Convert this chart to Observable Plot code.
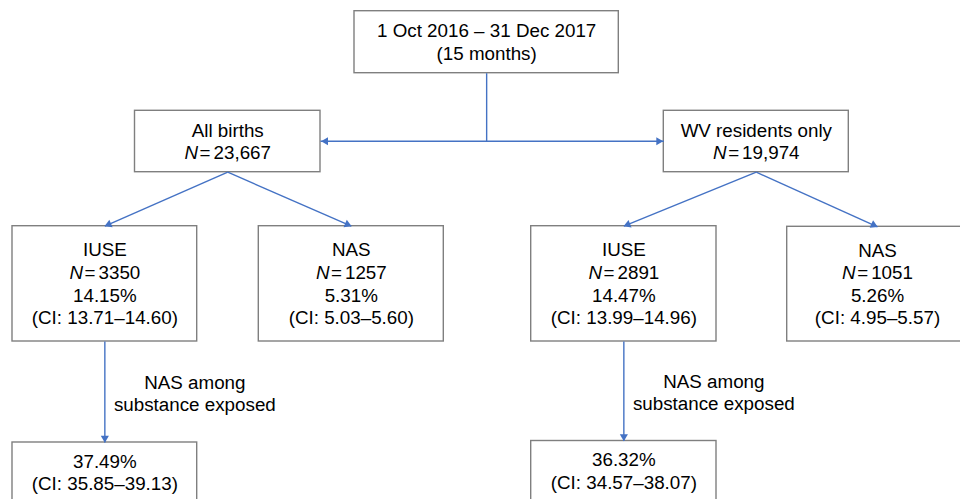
<!DOCTYPE html>
<html>
<head>
<meta charset="utf-8">
<script src="https://cdn.jsdelivr.net/npm/d3@7"></script>
<script src="https://cdn.jsdelivr.net/npm/@observablehq/plot@0.6"></script>
<style>
  html, body { margin: 0; padding: 0; background: #fff; overflow: hidden; }
</style>
</head>
<body>
<div id="chart"></div>
<script>
// ---- Data (content of the flow chart) ----
const nodeIds      = ["period", "all", "wv", "allIuse", "allNas", "wvIuse", "wvNas", "allIuseNas", "wvIuseNas"];
const nodeTitles   = ["1 Oct 2016 \u2013 31 Dec 2017", "All births", "WV residents only", "IUSE", "NAS", "IUSE", "NAS", null, null];
const nodeNotes    = ["(15 months)", null, null, null, null, null, null, null, null];
const nodeCounts   = [null, "23,667", "19,974", "3350", "1257", "2891", "1051", null, null];
const nodePercents = [null, null, null, "14.15%", "5.31%", "14.47%", "5.26%", "37.49%", "36.32%"];
const nodeCIs      = [null, null, null, "13.71\u201314.60", "5.03\u20135.60", "13.99\u201314.96", "4.95\u20135.57", "35.85\u201339.13", "34.57\u201338.07"];

const edgeFrom   = ["all", "all", "wv", "wv", "allIuse", "wvIuse"];
const edgeTo     = ["allIuse", "allNas", "wvIuse", "wvNas", "allIuseNas", "wvIuseNas"];
const edgeLabels = [null, null, null, null, "NAS among\nsubstance exposed", "NAS among\nsubstance exposed"];

// ---- Layout (diagram geometry, pixels) ----
const layout = {
  period:     {x1: 354,   y1: 10.7,  x2: 618.3, y2: 72.7},
  all:        {x1: 134.5, y1: 110.3, x2: 320,   y2: 171.7},
  wv:         {x1: 663.3, y1: 110.3, x2: 848.3, y2: 171.7},
  allIuse:    {x1: 12,    y1: 225.7, x2: 196.7, y2: 341},
  allNas:     {x1: 258.3, y1: 225.7, x2: 443.3, y2: 341},
  wvIuse:     {x1: 530.7, y1: 225.7, x2: 716,   y2: 341},
  wvNas:      {x1: 786.7, y1: 226.3, x2: 967.3, y2: 341},
  allIuseNas: {x1: 12,    y1: 442,   x2: 196.7, y2: 503},
  wvIuseNas:  {x1: 530.7, y1: 440.5, x2: 716,   y2: 503}
};
const labelOffsetX = 90;   // edge label placed to the right of vertical arrows
const branchY = 140.7;     // y of the horizontal split line

const BLUE = "#4472c4";
const GRAY = "#7f7f7f";
const FONT = "'Liberation Sans', Arial, Helvetica, sans-serif";

// ---- Build tables ----
const boxes = nodeIds.map((id, i) => {
  const b = layout[id];
  const lines = [];
  if (nodeTitles[i]) lines.push(nodeTitles[i]);
  if (nodeNotes[i]) lines.push(nodeNotes[i]);
  if (nodeCounts[i]) lines.push("N=" + nodeCounts[i]);
  if (nodePercents[i]) lines.push(nodePercents[i]);
  if (nodeCIs[i]) lines.push("(CI: " + nodeCIs[i] + ")");
  return {id, ...b, cx: (b.x1 + b.x2) / 2, cy: (b.y1 + b.y2) / 2 - 0.8, text: lines.join("\n")};
});
// the bottom boxes are cut by the page edge; text sits at a fixed offset from their top
boxes.forEach(b => { if (b.id.endsWith("IuseNas")) b.cy = b.y1 + 29.5; });
const byId = Object.fromEntries(boxes.map(b => [b.id, b]));

const links = [];
const heads = [];
function addHead(x1, y1, x2, y2, r) {
  const dx = x2 - x1, dy = y2 - y1, len = Math.hypot(dx, dy);
  const ux = dx / len, uy = dy / len;
  const back = 2 * r * 0.7776;
  heads.push({x: x2 - ux * back, y: y2 - uy * back, angle: Math.atan2(dx, -dy) * 180 / Math.PI, r});
}
// connector from period box to the horizontal line
const p = byId.period;
links.push({x1: p.cx, y1: p.y2, x2: p.cx, y2: branchY});
// double-headed horizontal arrow
const A = byId.all, W = byId.wv;
links.push({x1: A.x2, y1: branchY, x2: W.x1, y2: branchY});
addHead(W.x1 - 30, branchY, A.x2 + 1, branchY, 2.7);
addHead(A.x2 + 30, branchY, W.x1 - 1, branchY, 2.7);

const edgeText = [];
edgeFrom.forEach((f, i) => {
  const s = byId[f], t = byId[edgeTo[i]];
  const x1 = s.cx, y1 = s.y2, x2 = t.cx, y2 = t.y1;
  links.push({x1, y1, x2, y2});
  addHead(x1, y1, x2, y2, 2.8);
  if (edgeLabels[i]) edgeText.push({x: x1 + labelOffsetX, y: (y1 + y2) / 2 + 1, text: edgeLabels[i]});
});

// ---- Plot ----
const chart = Plot.plot({
  width: 960,
  height: 499,
  margin: 0,
  x: {domain: [0, 960], range: [0, 960], axis: null},
  y: {domain: [0, 499], range: [0, 499], axis: null},
  style: {background: "#fff", overflow: "hidden", fontFamily: FONT},
  marks: [
    Plot.rect(boxes, {x1: "x1", y1: "y1", x2: "x2", y2: "y2", fill: "#fff", stroke: GRAY, strokeWidth: 1.4}),
    Plot.link(links, {x1: "x1", y1: "y1", x2: "x2", y2: "y2", stroke: BLUE, strokeWidth: 1.4}),
    Plot.dot(heads, {x: "x", y: "y", r: "r", rotate: "angle", symbol: "triangle", fill: BLUE, stroke: "none"}),
    Plot.text(boxes, {x: "cx", y: "cy", text: "text", fontSize: 18.8, lineHeight: 1.2, fill: "#000", fontFamily: FONT}),
    Plot.text(edgeText, {x: "x", y: "y", text: "text", fontSize: 18.8, lineHeight: 1.18, fill: "#000", fontFamily: FONT})
  ]
});
document.getElementById("chart").appendChild(chart);

// italic N in "N=..." lines
d3.select(chart).selectAll("tspan").each(function () {
  const t = this.textContent;
  if (t.startsWith("N=")) {
    const el = d3.select(this);
    el.text(null);
    el.append("tspan").attr("font-style", "italic").text("N");
    el.append("tspan").attr("dx", 1.5).text("=");
    el.append("tspan").attr("dx", 3).text(t.slice(2));
  }
});
</script>
</body>
</html>
